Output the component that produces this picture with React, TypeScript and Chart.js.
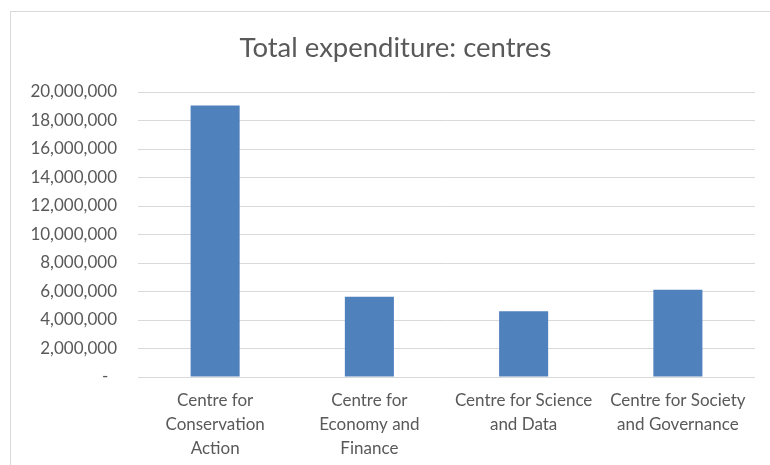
import React, { useEffect, useRef } from "react";
import { Chart, registerables } from "chart.js";

Chart.register(...registerables);

const categories: string[][] = [
  ["Centre for", "Conservation", "Action"],
  ["Centre for", "Economy and", "Finance"],
  ["Centre for Science", "and Data"],
  ["Centre for Society", "and Governance"],
];
const expenditure: number[] = [19050000, 5630000, 4620000, 6130000];
const yTickMin = 0;
const yTickMax = 20000000;
const yTickStep = 2000000;

const TEXT = "#595959";
const GRID = "#D9D9D9";
const FONT = "Lato, 'Open Sans', sans-serif";

// Centres the title over the whole chart frame (as in the reference), not the padded box.
const shiftTitle = {
  id: "shiftTitle",
  afterLayout(chart: any) {
    const t = chart.titleBlock;
    if (t) {
      t.left += 5;
      t.right += 5;
    }
  },
};

export default function App() {
  const ref = useRef<HTMLCanvasElement | null>(null);

  useEffect(() => {
    if (!ref.current) return;
    const chart = new Chart(ref.current, {
      type: "bar",
      data: {
        labels: categories,
        datasets: [
          {
            data: expenditure,
            backgroundColor: "#4F81BD",
            borderWidth: 0,
            barPercentage: 0.318,
            categoryPercentage: 1,
          },
        ],
      },
      plugins: [shiftTitle],
      options: {
        responsive: false,
        animation: false,
        layout: { padding: { left: 26, right: 15, top: 0, bottom: 0 } },
        plugins: {
          legend: { display: false },
          tooltip: { enabled: false },
          title: {
            display: true,
            text: "Total expenditure: centres",
            color: TEXT,
            font: { family: FONT, size: 27.5, weight: "normal", lineHeight: 1.2 },
            padding: { top: 32, bottom: 27 },
          },
        },
        scales: {
          x: {
            grid: { display: false, drawTicks: false },
            border: { display: false },
            ticks: {
              color: TEXT,
              font: { family: FONT, size: 17, lineHeight: 24 / 17 },
              maxRotation: 0,
              minRotation: 0,
              autoSkip: false,
              padding: 12,
            },
            afterFit: (scale: any) => {
              scale.height = 88;
            },
          },
          y: {
            min: yTickMin,
            max: yTickMax,
            grid: { color: GRID, lineWidth: 1, drawTicks: false },
            border: { display: false },
            ticks: {
              stepSize: yTickStep,
              color: TEXT,
              font: { family: FONT, size: 17 },
              padding: 21,
              callback: (v: any) =>
                Number(v) === 0 ? "-  " : Number(v).toLocaleString("en-US"),
            },
            afterFit: (scale: any) => {
              scale.width = 112;
            },
          },
        },
      },
    });
    return () => chart.destroy();
  }, []);

  return (
    <div
      style={{
        position: "fixed",
        left: 0,
        top: 0,
        width: 770,
        height: 465,
        overflow: "hidden",
        background: "#fff",
      }}
    >
      <div
        style={{
          position: "absolute",
          left: 10,
          top: 11,
          width: 820,
          height: 520,
          border: "1px solid #D9D9D9",
        }}
      />
      <canvas
        ref={ref}
        width={770}
        height={465}
        style={{ position: "absolute", left: 0, top: 0 }}
      />
    </div>
  );
}
